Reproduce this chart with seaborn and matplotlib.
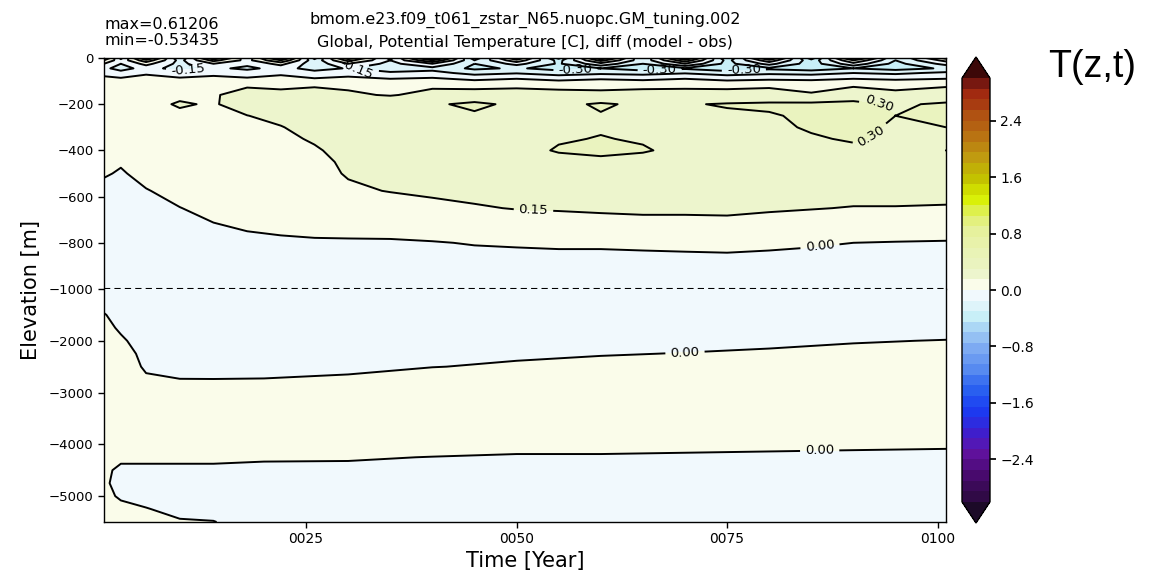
import matplotlib
matplotlib.use('Agg')
import numpy as np  # type: ignore
import pandas as pd  # type: ignore
import matplotlib.pyplot as plt  # type: ignore
import seaborn as sns  # type: ignore
from matplotlib.colors import LinearSegmentedColormap
from matplotlib.ticker import FuncFormatter

# ---------------------------------------------------------
# data (model - obs temperature, degC)
# ---------------------------------------------------------
years_upper = [1, 3, 6, 10, 14, 18, 22, 26, 30, 35, 40, 45, 50, 55, 60, 65, 70, 75, 80, 85, 90, 95, 101]
depth_upper = [0, -10, -25, -45, -65, -90, -120, -160, -200, -250, -300, -350, -400,
               -450, -500, -575, -650, -725, -800, -900, -1000]
temp_upper = [
    [0.35, -0.20, 0.50, -0.30, 0.45, -0.10, 0.55, -0.35, 0.40, -0.20, 0.61, -0.40, 0.30, -0.50, 0.45, -0.30, 0.50, -0.45, 0.35, -0.53, 0.40, -0.30, 0.20],
    [0.15, -0.10, 0.25, -0.20, 0.20, -0.05, 0.30, -0.25, 0.20, -0.15, 0.30, -0.30, 0.10, -0.35, 0.20, -0.25, 0.25, -0.35, 0.10, -0.40, 0.15, -0.30, 0.05],
    [0.00, -0.15, 0.05, -0.20, 0.00, -0.12, 0.05, -0.25, 0.00, -0.20, 0.00, -0.30, -0.10, -0.32, -0.05, -0.30, 0.00, -0.35, -0.10, -0.38, -0.05, -0.35, -0.10],
    [-0.12, -0.20, -0.10, -0.20, -0.12, -0.18, -0.10, -0.20, -0.14, -0.25, -0.20, -0.33, -0.28, -0.36, -0.30, -0.38, -0.32, -0.40, -0.33, -0.38, -0.30, -0.36, -0.28],
    [-0.05, -0.10, -0.02, -0.08, -0.04, -0.08, -0.03, -0.10, -0.05, -0.12, -0.10, -0.20, -0.16, -0.22, -0.18, -0.20, -0.16, -0.22, -0.18, -0.20, -0.15, -0.18, -0.12],
    [0.04, 0.02, 0.05, 0.02, 0.04, 0.02, 0.05, 0.01, 0.03, 0.00, 0.02, -0.03, 0.00, -0.04, -0.01, -0.03, 0.00, -0.04, -0.02, -0.03, 0.00, -0.02, 0.00],
    [0.10, 0.09, 0.11, 0.10, 0.12, 0.14, 0.13, 0.14, 0.13, 0.12, 0.13, 0.12, 0.13, 0.12, 0.13, 0.12, 0.13, 0.12, 0.13, 0.12, 0.14, 0.12, 0.14],
    [0.11, 0.12, 0.12, 0.13, 0.14, 0.19, 0.18, 0.20, 0.17, 0.14, 0.19, 0.20, 0.20, 0.19, 0.17, 0.20, 0.19, 0.20, 0.21, 0.16, 0.22, 0.18, 0.21],
    [0.10, 0.10, 0.12, 0.16, 0.14, 0.20, 0.22, 0.24, 0.25, 0.26, 0.28, 0.33, 0.27, 0.26, 0.32, 0.27, 0.29, 0.31, 0.32, 0.33, 0.34, 0.28, 0.32],
    [0.10, 0.10, 0.12, 0.13, 0.14, 0.148, 0.18, 0.22, 0.24, 0.25, 0.27, 0.28, 0.28, 0.28, 0.29, 0.28, 0.28, 0.28, 0.29, 0.32, 0.33, 0.30, 0.31],
    [0.09, 0.09, 0.11, 0.12, 0.13, 0.13, 0.145, 0.19, 0.22, 0.24, 0.26, 0.27, 0.27, 0.28, 0.29, 0.29, 0.28, 0.28, 0.28, 0.31, 0.32, 0.29, 0.30],
    [0.08, 0.07, 0.10, 0.11, 0.12, 0.12, 0.13, 0.16, 0.20, 0.23, 0.25, 0.26, 0.27, 0.29, 0.305, 0.29, 0.28, 0.28, 0.28, 0.29, 0.31, 0.28, 0.29],
    [0.06, 0.05, 0.08, 0.10, 0.11, 0.11, 0.12, 0.14, 0.18, 0.22, 0.24, 0.25, 0.26, 0.31, 0.33, 0.31, 0.27, 0.27, 0.27, 0.27, 0.28, 0.28, 0.30],
    [0.04, 0.01, 0.06, 0.08, 0.10, 0.10, 0.11, 0.12, 0.17, 0.20, 0.22, 0.23, 0.24, 0.26, 0.27, 0.26, 0.26, 0.26, 0.26, 0.26, 0.26, 0.26, 0.26],
    [0.01, -0.01, 0.03, 0.06, 0.08, 0.09, 0.10, 0.11, 0.16, 0.18, 0.20, 0.21, 0.22, 0.23, 0.24, 0.24, 0.24, 0.24, 0.24, 0.24, 0.23, 0.23, 0.23],
    [-0.03, -0.04, -0.005, 0.03, 0.06, 0.07, 0.08, 0.09, 0.13, 0.155, 0.17, 0.18, 0.19, 0.20, 0.21, 0.21, 0.21, 0.21, 0.21, 0.20, 0.19, 0.19, 0.19],
    [-0.05, -0.05, -0.03, -0.002, 0.025, 0.045, 0.05, 0.06, 0.08, 0.09, 0.12, 0.14, 0.155, 0.16, 0.17, 0.175, 0.175, 0.18, 0.165, 0.155, 0.145, 0.145, 0.14],
    [-0.06, -0.06, -0.05, -0.03, -0.005, 0.01, 0.02, 0.025, 0.03, 0.035, 0.05, 0.07, 0.09, 0.10, 0.10, 0.11, 0.11, 0.11, 0.10, 0.09, 0.08, 0.075, 0.075],
    [-0.07, -0.07, -0.06, -0.05, -0.04, -0.02, -0.015, -0.01, -0.01, -0.01, -0.005, 0.005, 0.01, 0.015, 0.015, 0.02, 0.025, 0.03, 0.02, 0.01, 0.00, -0.005, -0.01],
    [-0.07, -0.07, -0.07, -0.06, -0.06, -0.05, -0.05, -0.05, -0.05, -0.05, -0.05, -0.04, -0.04, -0.04, -0.04, -0.04, -0.04, -0.04, -0.04, -0.04, -0.045, -0.045, -0.045],
    [-0.07, -0.07, -0.07, -0.07, -0.07, -0.07, -0.07, -0.07, -0.07, -0.07, -0.07, -0.07, -0.07, -0.07, -0.07, -0.07, -0.07, -0.07, -0.07, -0.07, -0.07, -0.07, -0.07],
]

years_lower = [1, 3, 6, 10, 14, 20, 30, 40, 50, 60, 70, 80, 90, 101]
depth_lower = [-1000, -1250, -1500, -1750, -2000, -2250, -2500, -2750, -3000,
               -3500, -4000, -4250, -4500, -4750, -5000, -5250, -5500]
temp_lower = [
    [-0.07, -0.07, -0.07, -0.07, -0.07, -0.07, -0.07, -0.07, -0.07, -0.07, -0.07, -0.07, -0.07, -0.07],
    [-0.03, -0.05, -0.06, -0.06, -0.06, -0.06, -0.06, -0.06, -0.06, -0.06, -0.06, -0.055, -0.05, -0.05],
    [0.005, -0.03, -0.05, -0.05, -0.05, -0.05, -0.05, -0.05, -0.045, -0.045, -0.04, -0.04, -0.035, -0.03],
    [0.02, -0.01, -0.04, -0.04, -0.045, -0.045, -0.045, -0.04, -0.035, -0.03, -0.025, -0.02, -0.015, -0.012],
    [0.03, 0.01, -0.03, -0.035, -0.04, -0.04, -0.035, -0.03, -0.02, -0.015, -0.01, -0.006, -0.002, 0.001],
    [0.04, 0.03, -0.02, -0.025, -0.03, -0.03, -0.025, -0.02, -0.006, -0.002, 0.001, 0.004, 0.008, 0.01],
    [0.04, 0.04, -0.01, -0.015, -0.02, -0.02, -0.015, -0.001, 0.005, 0.01, 0.01, 0.012, 0.015, 0.015],
    [0.04, 0.04, 0.01, 0.001, 0.001, 0.002, 0.01, 0.02, 0.02, 0.02, 0.02, 0.02, 0.02, 0.02],
    [0.04, 0.04, 0.03, 0.03, 0.03, 0.03, 0.03, 0.03, 0.03, 0.03, 0.03, 0.03, 0.03, 0.03],
    [0.04, 0.04, 0.04, 0.04, 0.04, 0.04, 0.04, 0.04, 0.04, 0.04, 0.04, 0.04, 0.04, 0.04],
    [0.03, 0.02, 0.02, 0.02, 0.02, 0.02, 0.02, 0.02, 0.015, 0.015, 0.013, 0.011, 0.009, 0.007],
    [0.02, 0.01, 0.01, 0.01, 0.01, 0.005, 0.004, -0.001, -0.005, -0.005, -0.007, -0.009, -0.011, -0.013],
    [0.01, -0.01, -0.01, -0.01, -0.01, -0.01, -0.01, -0.01, -0.015, -0.015, -0.015, -0.015, -0.015, -0.015],
    [0.01, -0.02, -0.02, -0.02, -0.02, -0.02, -0.02, -0.02, -0.02, -0.02, -0.02, -0.02, -0.02, -0.02],
    [0.01, -0.005, -0.015, -0.02, -0.03, -0.03, -0.03, -0.03, -0.03, -0.03, -0.03, -0.03, -0.03, -0.03],
    [0.01, 0.01, 0.002, -0.012, -0.02, -0.03, -0.03, -0.03, -0.03, -0.03, -0.03, -0.03, -0.03, -0.03],
    [0.01, 0.02, 0.01, 0.004, 0.002, -0.03, -0.03, -0.03, -0.03, -0.03, -0.03, -0.03, -0.03, -0.03],
]

year_ticks = [25, 50, 75, 100]
upper_yticks = [0, -200, -400, -600, -800, -1000]
lower_yticks = [-2000, -3000, -4000, -5000]
cbar_ticks = [-2.4, -1.6, -0.8, 0.0, 0.8, 1.6, 2.4]

title_text = ('bmom.e23.f09_t061_zstar_N65.nuopc.GM_tuning.002\n'
              'Global, Potential Temperature [C], diff (model - obs)')
stats_text = 'max=0.61206\nmin=-0.53435'

# label anchors for the contour labels
upper_label_pos = [(52, -665), (86, -805), (11, -55), (31, -60), (57, -55), (67, -55),
                   (77, -60), (91, -290), (93, -200)]
lower_label_pos = [(70, -2230), (86, -4150)]

# ---------------------------------------------------------
# style
# ---------------------------------------------------------
sns.set_theme(style='ticks', rc={'axes.edgecolor': 'black', 'xtick.color': 'black',
                                  'ytick.color': 'black', 'axes.linewidth': 1.0,
                                  'text.color': 'black', 'axes.labelcolor': 'black'})
plt.rcParams['font.family'] = ['DejaVu Sans']

cmap_nodes = [
    (-3.0, '#2b0a3d'), (-2.6, '#4a0a70'), (-2.3, '#6212a2'), (-2.0, '#3a20d2'),
    (-1.7, '#1a3cf2'), (-1.4, '#2a62f0'), (-1.1, '#5a8cf0'), (-0.8, '#82aef2'),
    (-0.6, '#9ecaf4'), (-0.4, '#c2eef6'), (-0.25, '#daf3f9'), (-0.1, '#eef8fc'),
    (0.0, '#ffffff'), (0.1, '#f9fbe6'), (0.25, '#ebf4c8'), (0.5, '#e9f3b8'),
    (0.85, '#e6f19c'), (1.1, '#e0f060'), (1.3, '#d8f000'), (1.6, '#c2c000'),
    (1.9, '#c09a10'), (2.2, '#b87012'), (2.5, '#b05012'), (2.8, '#a02810'), (3.0, '#601010'),
]
cmap = LinearSegmentedColormap.from_list(
    'anom', [((v + 3.0) / 6.0, c) for v, c in cmap_nodes])
cmap.set_under('#1c0a28')
cmap.set_over('#3c0808')

levels = np.linspace(-3.0, 3.0, 41)

df_up = pd.DataFrame(temp_upper, index=depth_upper, columns=years_upper)
df_lo = pd.DataFrame(temp_lower, index=depth_lower, columns=years_lower)

fig = plt.figure(figsize=(11.65, 5.76), dpi=100)
ax_up = fig.add_axes([104 / 1165, 1 - 289 / 576, 842 / 1165, 231 / 576])
ax_lo = fig.add_axes([104 / 1165, 1 - 522 / 576, 842 / 1165, 233 / 576])
cax = fig.add_axes([962 / 1165, 1 - 523 / 576, 28 / 1165, 466 / 576])

line_kw = dict(colors='black', linewidths=1.4, negative_linestyles='solid')
label_kw = dict(inline=True, fmt='%.2f', fontsize=9.5, inline_spacing=5)

# upper 0-1000 m
cf = ax_up.contourf(df_up.columns, df_up.index, df_up.values, levels=levels,
                    cmap=cmap, extend='both')
cs_up = ax_up.contour(df_up.columns, df_up.index, df_up.values, levels=levels, **line_kw)
ax_up.clabel(cs_up, manual=upper_label_pos, **label_kw)

# lower 1000-5500 m
ax_lo.contourf(df_lo.columns, df_lo.index, df_lo.values, levels=levels,
               cmap=cmap, extend='both')
cs_lo = ax_lo.contour(df_lo.columns, df_lo.index, df_lo.values, levels=levels, **line_kw)
ax_lo.clabel(cs_lo, manual=lower_label_pos, **label_kw)

for ax in (ax_up, ax_lo):
    ax.set_xlim(1, 101)
    ax.tick_params(labelsize=9.5, length=4, width=1, colors='black')

ax_up.set_ylim(-1000, 0)
ax_up.set_yticks(upper_yticks)
ax_up.set_xticks([])
ax_up.spines['bottom'].set_visible(False)
ax_up.axhline(-1000, color='black', lw=1.5, dashes=(3, 2), clip_on=False)

ax_lo.set_ylim(-5500, -1000)
ax_lo.set_yticks(lower_yticks)
ax_lo.spines['top'].set_visible(False)
ax_lo.set_xticks(year_ticks)
ax_lo.xaxis.set_major_formatter(FuncFormatter(lambda v, p: '%04d' % int(round(v))))
ax_lo.tick_params(axis='x', labelsize=10)

cb = fig.colorbar(cf, cax=cax, extend='both', ticks=cbar_ticks)
cb.ax.tick_params(labelsize=10, length=4, colors='black')
cb.outline.set_edgecolor('black')

ax_up.set_title(title_text, fontsize=11.5, linespacing=1.6, pad=8)
ax_up.text(0.0, 1.045, stats_text, transform=ax_up.transAxes, ha='left', va='bottom',
           fontsize=11.5, linespacing=1.05)

fig.text(31 / 1165, 1 - 290 / 576, 'Elevation [m]', rotation=90, ha='center',
         va='center', fontsize=15)
fig.text(525 / 1165, 1 - 561 / 576, 'Time [Year]', ha='center', va='center', fontsize=15)
fig.text(1092 / 1165, 1 - 67 / 576, 'T(z,t)', ha='center', va='center', fontsize=27,
         family=['Liberation Sans', 'DejaVu Sans'])

fig.savefig('out.png', dpi=100, facecolor='white')
